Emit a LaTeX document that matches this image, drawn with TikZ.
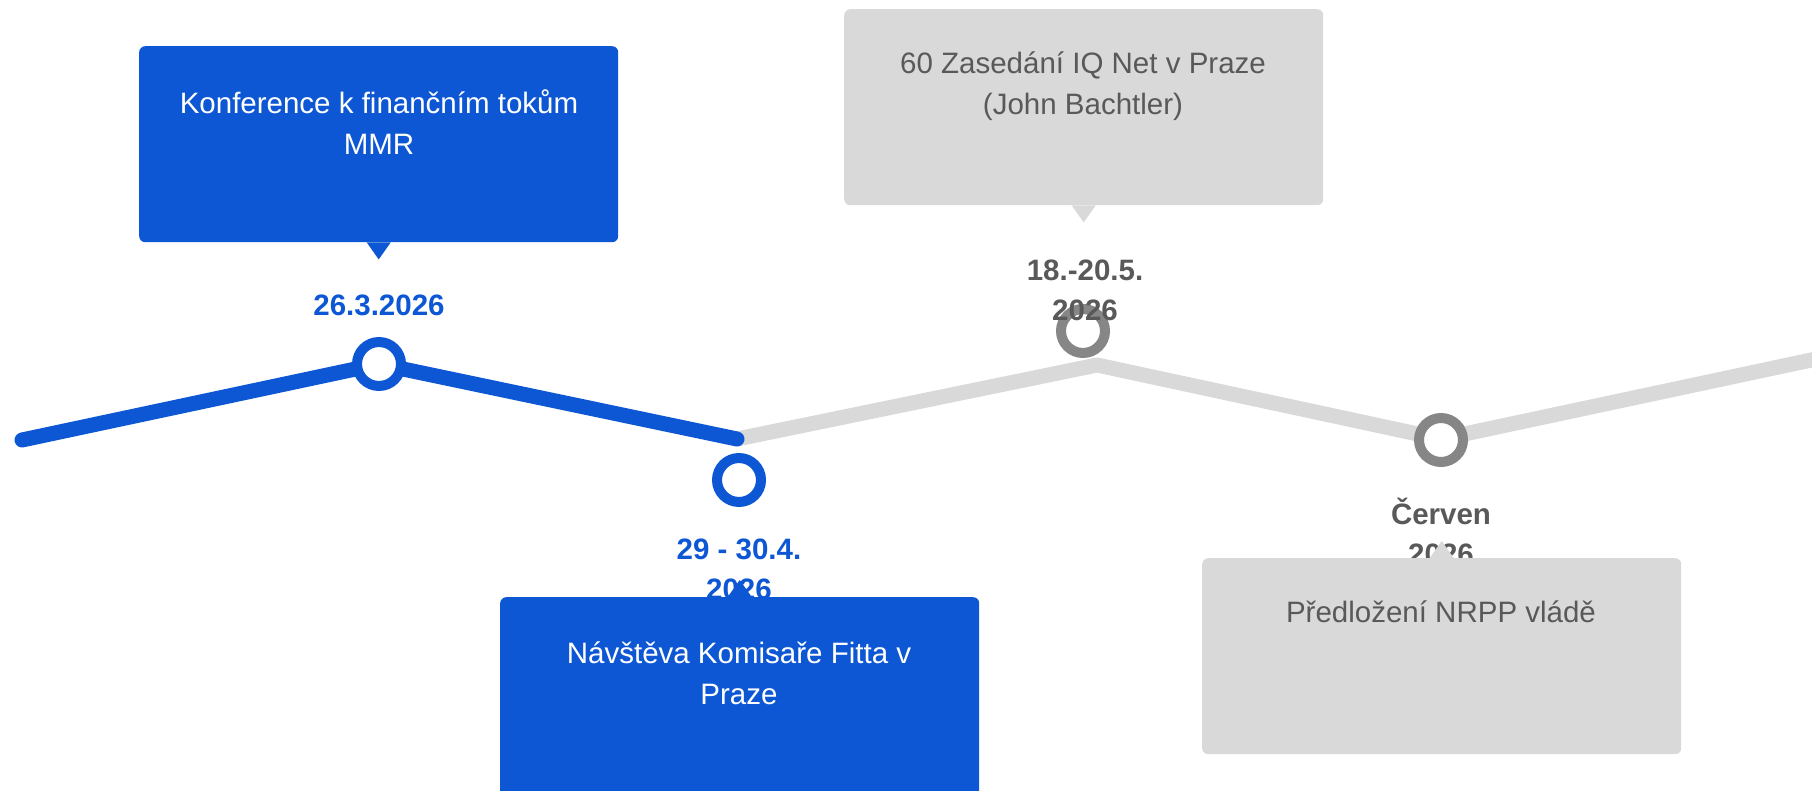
\documentclass[tikz,border=0pt]{standalone}
\usepackage{fontspec}
\setmainfont{Liberation Sans}
\usepackage{xcolor}
\usetikzlibrary{positioning}

\definecolor{mmrblue}{HTML}{0D57D4}
\definecolor{boxgray}{HTML}{D9D9D9}
\definecolor{ringgray}{HTML}{868686}
\definecolor{textgray}{HTML}{595959}

\tikzset{
  eventbox/.style={rounded corners=6pt, minimum width=479pt, minimum height=196pt,
    inner sep=0pt, anchor=north west},
  eventtext/.style={align=center, font=\fontsize{29.5}{41}\selectfont},
  datetext/.style={align=center, font=\fontsize{29.5}{40}\selectfont\bfseries},
  milestone/.style={circle, line width=10pt, fill=white, minimum size=44pt, inner sep=0pt},
  track/.style={line width=15pt, line cap=round, line join=round}
}

\begin{document}
\begin{tikzpicture}[x=1pt, y=-1pt]
    \useasboundingbox (0,0) rectangle (1812,791);

    % points of the zigzag line
    \coordinate (p0) at (22,440);
    \coordinate (p1) at (379,364);
    \coordinate (p2) at (737,439);
    \coordinate (p3) at (1097,365);
    \coordinate (p4) at (1441,439);
    \coordinate (p5) at (1830,356);

    % draw the grey part first, then the blue part on top
    \draw [track, boxgray] (p2) -- (p3) -- (p4) -- (p5);
    \draw [track, mmrblue] (p0) -- (p1) -- (p2);

    % draw the milestones
    \node [milestone, draw=mmrblue] (c1) at (379,364) {};
    \node [milestone, draw=mmrblue] (c2) at (739,480) {};
    \node [milestone, draw=ringgray] (c3) at (1083,331) {};
    \node [milestone, draw=ringgray] (c4) at (1441,440) {};

    % draw the dates
    \node [datetext, text=mmrblue] (d1) at (379,305) {26.3.2026};
    \node [datetext, text=mmrblue] (d2) at (739,569) {29 - 30.4.\\2026};
    \node [datetext, text=textgray] (d3) at (1085,290) {18.-20.5.\\2026};
    \node [datetext, text=textgray] (d4) at (1441,531) {Červen\\2026};

    % draw the boxes above the line
    \node [eventbox, fill=mmrblue] (b1) at (139,46) {};
    \fill [mmrblue] (b1.south) ++(-12,0) -- ++(12,17) -- ++(12,-17) -- cycle;
    \node [eventbox, fill=boxgray] (b3) at (844,9) {};
    \fill [boxgray] (b3.south) ++(-12,0) -- ++(12,17) -- ++(12,-17) -- cycle;

    % draw the boxes below the line
    \node [eventbox, fill=mmrblue, minimum height=215pt] (b2) at (500,597) {};
    \fill [mmrblue] (b2.north) ++(-12,0) -- ++(12,-17) -- ++(12,17) -- cycle;
    \node [eventbox, fill=boxgray] (b4) at (1202,558) {};
    \fill [boxgray] (b4.north) ++(-12,0) -- ++(12,-17) -- ++(12,17) -- cycle;

    % draw the texts of the boxes
    \node [eventtext, text=white] (t1) at (379,122) {Konference k finančním tokům\\MMR};
    \node [eventtext, text=textgray] (t3) at (1083,86) {60 Zasedání IQ Net v Praze\\(John Bachtler)};
    \node [eventtext, text=white] (t2) at (739,673) {Návštěva Komisaře Fitta v\\Praze};
    \node [eventtext, text=textgray] (t4) at (1441,612) {Předložení NRPP vládě};

  \end{tikzpicture}
\end{document}
